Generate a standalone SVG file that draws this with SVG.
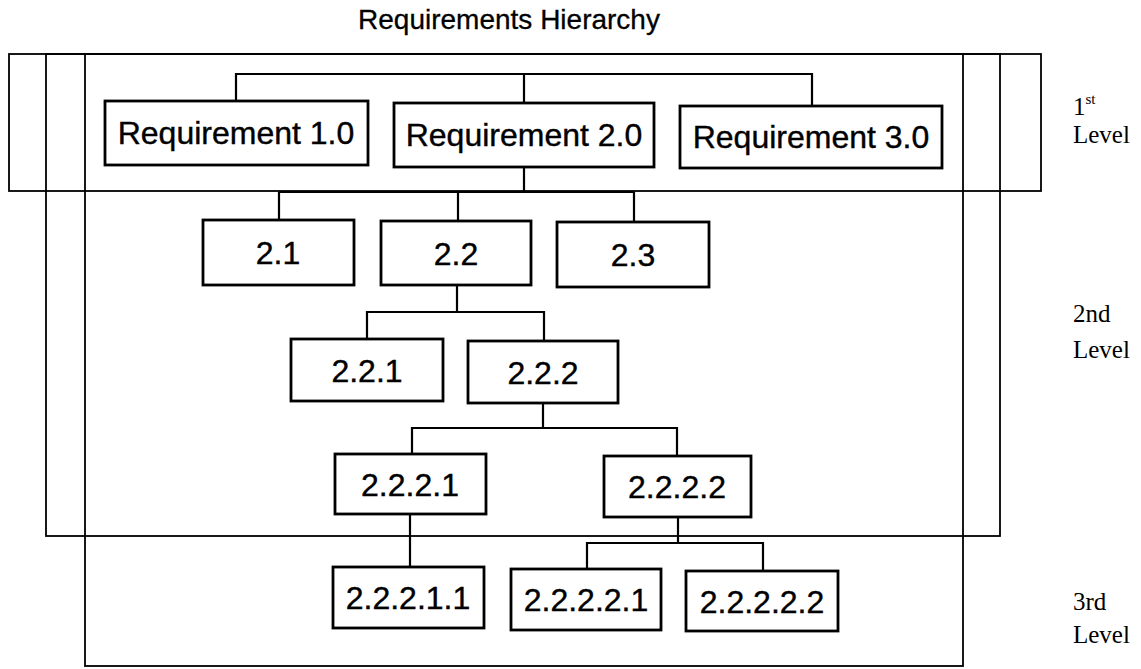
<svg xmlns="http://www.w3.org/2000/svg" width="1141" height="669" viewBox="0 0 1141 669">
<style>
.frame{fill:none;stroke:#000;stroke-width:1.8}
.box{fill:#fff;stroke:#000;stroke-width:2.8}
.conn{fill:none;stroke:#000;stroke-width:2.2}
.lbl{font-family:"Liberation Sans",Arial,sans-serif;font-size:32px;text-anchor:middle;fill:#000;stroke:#000;stroke-width:0.4}
.lvl{font-family:"Liberation Serif","Times New Roman",serif;font-size:25px;fill:#000}
.title{font-family:"Liberation Sans",Arial,sans-serif;font-size:28px;text-anchor:middle;fill:#000;stroke:#000;stroke-width:0.3}
</style>
<rect width="1141" height="669" fill="#fff"/>
<text class="title" x="509" y="29">Requirements Hierarchy</text>
<g id="frames">
<rect class="frame" x="9" y="54" width="1032" height="137"/>
<rect class="frame" x="46" y="54" width="954" height="482"/>
<rect class="frame" x="85" y="54" width="878" height="612"/>
</g>
<g id="level-labels">
<text class="lvl" x="1073" y="115">1<tspan font-size="15" dy="-11">st</tspan></text>
<text class="lvl" x="1073" y="143">Level</text>
<text class="lvl" x="1073" y="322">2nd</text>
<text class="lvl" x="1073" y="358">Level</text>
<text class="lvl" x="1073" y="610">3rd</text>
<text class="lvl" x="1073" y="643">Level</text>
</g>
<g id="connectors">
<path class="conn" d="M236 101V74H812V106M524 74V103"/>
<path class="conn" d="M524 167V192M279 220V192M458 192V221M634 192V222"/>
<path class="conn" d="M279 192H634" stroke-width="3.5"/>
<path class="conn" d="M457 285V312M367 339V312H544V341"/>
<path class="conn" d="M543 403V428M412 454V428H677V456"/>
<path class="conn" d="M410 514V567"/>
<path class="conn" d="M678 517V543M587 569V543H763V571"/>
</g>
<g id="req1"><rect class="box" x="105" y="101" width="263" height="64"/><text class="lbl" x="236" y="144">Requirement 1.0</text></g>
<g id="req2"><rect class="box" x="394" y="103" width="260" height="64"/><text class="lbl" x="524" y="146">Requirement 2.0</text></g>
<g id="req3"><rect class="box" x="680" y="106" width="262" height="62"/><text class="lbl" x="811" y="148">Requirement 3.0</text></g>
<g id="n2_1"><rect class="box" x="203" y="220" width="151" height="65"/><text class="lbl" x="278" y="264">2.1</text></g>
<g id="n2_2"><rect class="box" x="381" y="221" width="150" height="64"/><text class="lbl" x="456" y="265">2.2</text></g>
<g id="n2_3"><rect class="box" x="557" y="222" width="152" height="65"/><text class="lbl" x="633" y="266">2.3</text></g>
<g id="n2_2_1"><rect class="box" x="291" y="339" width="152" height="62"/><text class="lbl" x="367" y="382">2.2.1</text></g>
<g id="n2_2_2"><rect class="box" x="468" y="341" width="150" height="62"/><text class="lbl" x="543" y="384">2.2.2</text></g>
<g id="n2_2_2_1"><rect class="box" x="335" y="454" width="151" height="60"/><text class="lbl" x="410" y="496">2.2.2.1</text></g>
<g id="n2_2_2_2"><rect class="box" x="604" y="456" width="147" height="61"/><text class="lbl" x="677" y="498">2.2.2.2</text></g>
<g id="n2_2_2_1_1"><rect class="box" x="333" y="567" width="151" height="61"/><text class="lbl" x="408" y="609">2.2.2.1.1</text></g>
<g id="n2_2_2_2_1"><rect class="box" x="511" y="569" width="150" height="61"/><text class="lbl" x="586" y="611">2.2.2.2.1</text></g>
<g id="n2_2_2_2_2"><rect class="box" x="686" y="571" width="152" height="60"/><text class="lbl" x="762" y="613">2.2.2.2.2</text></g>
</svg>
